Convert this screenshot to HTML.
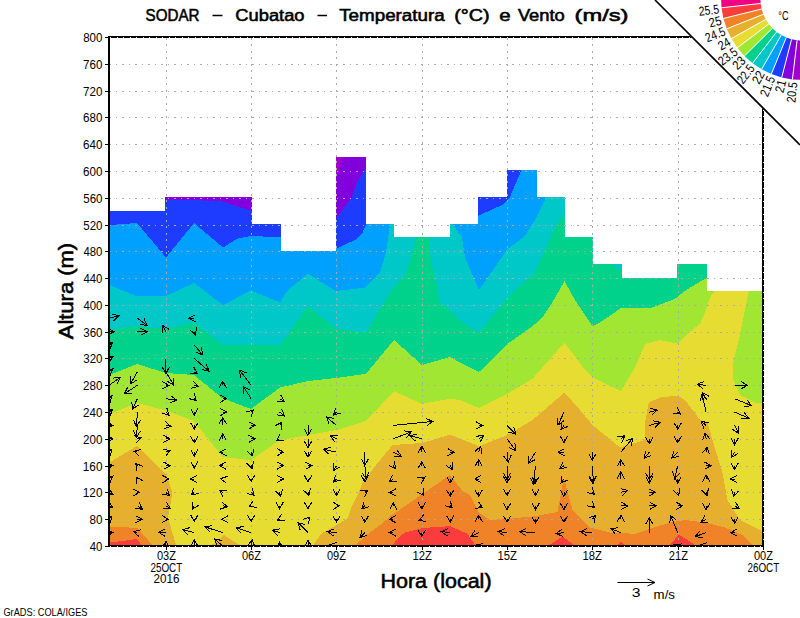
<!DOCTYPE html><html><head><meta charset="utf-8"><style>html,body{margin:0;padding:0;background:#fff;overflow:hidden}svg{display:block}</style></head><body><svg width="800" height="618" viewBox="0 0 800 618">
<defs><clipPath id="m"><polygon points="109.0,546.0 109.0,211.1 137.4,211.1 137.4,211.1 165.9,211.1 165.9,197.7 194.3,197.7 194.3,197.7 222.7,197.7 222.7,197.7 251.2,197.7 251.2,224.5 279.6,224.5 279.6,251.3 308.0,251.3 308.0,251.3 336.5,251.3 336.5,157.6 364.9,157.6 364.9,224.5 393.3,224.5 393.3,237.9 421.8,237.9 421.8,237.9 450.2,237.9 450.2,224.5 478.7,224.5 478.7,197.7 507.1,197.7 507.1,170.9 535.5,170.9 535.5,197.7 564.0,197.7 564.0,237.9 592.4,237.9 592.4,264.7 620.8,264.7 620.8,278.1 649.3,278.1 649.3,278.1 677.7,278.1 677.7,264.7 706.1,264.7 706.1,291.5 734.6,291.5 734.6,291.5 763.0,291.5 763.0,546.0"/></clipPath><clipPath id="pr"><rect x="109" y="37" width="654" height="509"/></clipPath><clipPath id="pa"><rect x="110" y="38" width="652" height="507"/></clipPath></defs>
<rect width="800" height="618" fill="#fff"/>
<g clip-path="url(#pr)" shape-rendering="crispEdges">
<rect x="100" y="100" width="700" height="460" fill="#8200dc"/>
<polygon points="336,157 343.7,157 336,178.7" fill="#a000c8"/>
<polygon points="100.0,150.0 164.8,150.0 164.8,199.5 220.0,201.0 252.2,211.0 252.2,150.0 335.8,150.0 335.8,218.5 343.5,208.8 351.5,198.0 357.0,182.0 366.2,167.8 366.2,150.0 805.0,150.0 805.0,560.0 100.0,560.0" fill="#1e3cff"/>
<polygon points="100.0,225.8 137.0,223.0 166.0,257.5 194.0,223.0 223.0,247.5 237.0,238.8 251.0,235.8 281.2,237.5 281.2,150.0 335.8,150.0 335.8,248.8 357.0,239.0 362.0,233.7 366.2,224.0 366.2,150.0 477.8,150.0 477.8,216.0 502.0,205.0 509.5,198.0 521.0,171.0 521.0,150.0 805.0,150.0 805.0,560.0 100.0,560.0" fill="#00a0ff"/>
<polygon points="100.0,281.2 137.0,296.2 166.0,296.0 194.0,283.0 223.0,305.0 251.0,290.5 280.0,302.5 287.0,291.0 308.0,273.8 336.0,291.2 365.0,287.5 380.0,272.5 386.0,252.5 390.0,224.0 390.0,150.0 452.5,150.0 452.5,224.0 462.0,237.5 465.0,257.5 479.0,290.0 507.5,249.0 525.0,236.0 535.0,220.0 546.0,198.0 546.0,150.0 805.0,150.0 805.0,560.0 100.0,560.0" fill="#00c8c8"/>
<polygon points="100.0,331.2 137.0,326.2 166.0,328.8 194.0,322.5 222.5,344.5 280.0,345.5 308.0,306.2 336.0,328.8 366.0,332.5 390.0,292.5 405.0,275.0 411.0,257.5 416.0,237.5 422.0,200.0 428.8,237.5 430.0,255.0 436.0,282.5 440.0,302.5 450.0,310.0 460.0,321.0 479.0,333.0 507.5,297.5 535.0,272.5 555.0,227.5 565.2,212.5 565.2,150.0 612.0,150.0 612.0,264.5 622.2,271.0 622.2,150.0 805.0,150.0 805.0,560.0 100.0,560.0" fill="#00d28c"/>
<polygon points="100.0,378.8 137.0,364.0 166.0,373.0 194.0,375.0 222.0,398.0 251.0,409.0 280.0,387.5 308.0,381.0 336.0,378.0 366.0,373.8 394.0,340.0 422.0,365.0 450.0,357.0 460.0,362.5 479.0,372.0 507.5,343.8 532.5,326.2 542.5,317.5 553.8,300.0 564.5,281.2 575.0,300.0 592.5,326.2 600.0,322.5 621.8,307.5 652.5,307.5 675.0,298.8 686.2,290.0 707.2,277.5 707.2,260.0 805.0,260.0 805.0,560.0 100.0,560.0" fill="#a0e632"/>
<polygon points="100.0,418.0 137.0,403.0 166.0,410.5 194.0,421.0 222.5,457.0 251.0,460.0 280.0,440.0 337.0,430.0 366.0,421.0 394.0,391.2 422.0,403.8 450.0,398.8 460.0,400.0 479.0,408.0 507.5,393.8 532.5,378.8 564.5,342.5 585.0,370.0 592.5,377.5 621.0,391.0 635.0,367.5 645.0,344.0 660.0,340.0 678.0,343.8 687.5,333.8 700.0,323.8 705.0,312.5 710.0,297.5 715.0,290.5 717.0,270.0 748.0,270.0 748.8,290.5 740.0,335.0 732.5,365.0 732.5,377.5 740.0,395.0 755.0,402.5 805.0,403.8 805.0,560.0 100.0,560.0" fill="#e6dc32"/>
<polygon points="100.0,468.0 137.0,446.0 166.0,474.0 172.4,493.0 168.0,518.0 177.0,548.0 208.0,548.0 224.0,535.0 244.0,548.0 311.0,548.0 322.0,533.0 336.6,525.0 348.0,518.0 352.0,506.0 358.0,494.0 362.0,484.0 376.0,465.0 392.5,445.0 422.5,443.0 450.0,434.5 479.0,446.2 507.5,435.0 532.5,420.0 564.5,392.5 580.0,410.0 592.5,425.0 620.0,447.5 645.0,440.0 645.0,422.5 648.8,402.5 660.0,397.5 677.5,395.5 685.0,400.0 700.0,420.0 707.5,422.5 712.5,440.0 722.5,472.5 727.5,500.0 740.0,520.0 760.0,530.0 805.0,530.0 805.0,560.0 100.0,560.0" fill="#e6af2d"/>
<polygon points="100.0,527.0 124.0,527.0 138.0,528.5 155.0,548.0 352.0,548.0 368.0,534.0 380.0,525.0 392.0,515.0 422.5,494.0 450.0,475.0 462.5,491.0 470.0,495.0 479.0,512.5 490.0,520.0 507.5,518.8 535.0,516.2 557.5,512.0 563.8,477.5 572.5,510.0 590.0,527.5 610.0,532.5 635.0,533.8 650.0,528.8 670.0,522.5 685.0,520.0 705.0,522.5 725.0,527.5 742.5,535.0 755.0,548.0 805.0,548.0 805.0,560.0 100.0,560.0" fill="#f08228"/>
<polygon points="100.0,542.0 118.0,541.5 137.0,539.0 144.0,548.0 390.0,548.0 400.0,536.0 405.0,532.5 422.5,528.0 450.0,526.2 467.5,533.8 477.5,548.0 545.0,548.0 562.5,536.2 577.5,548.0 615.0,548.0 621.0,541.0 627.5,548.0 667.5,548.0 678.8,534.5 700.0,548.0 805.0,548.0 805.0,560.0 100.0,560.0" fill="#fa3c3c"/>
<polygon points="100.0,211.0 100.0,211.0 138.0,211.0 138.0,211.0 165.0,211.0 165.0,197.0 195.0,197.0 195.0,197.0 224.0,197.0 224.0,197.0 252.0,197.0 252.0,224.0 281.0,224.0 281.0,251.0 309.0,251.0 309.0,251.0 336.0,251.0 336.0,157.0 366.0,157.0 366.0,224.0 394.0,224.0 394.0,237.0 423.0,237.0 423.0,237.0 450.0,237.0 450.0,224.0 478.0,224.0 478.0,197.0 507.0,197.0 507.0,170.0 537.0,170.0 537.0,197.0 565.0,197.0 565.0,237.0 593.0,237.0 593.0,264.0 622.0,264.0 622.0,278.0 650.0,278.0 650.0,278.0 677.0,278.0 677.0,264.0 707.0,264.0 707.0,291.0 736.0,291.0 736.0,291.0 805.0,291.0 805.0,30.0 100.0,30.0" fill="#fff"/>
</g>
<path d="M109.0 519.5H762.0 M109.0 492.5H762.0 M109.0 466.5H762.0 M109.0 439.5H762.0 M109.0 412.5H762.0 M109.0 385.5H762.0 M109.0 358.5H762.0 M109.0 332.5H762.0 M109.0 305.5H762.0 M109.0 278.5H762.0 M109.0 251.5H762.0 M109.0 225.5H762.0 M109.0 198.5H762.0 M109.0 171.5H762.0 M109.0 144.5H762.0 M109.0 117.5H762.0 M109.0 91.5H762.0 M109.0 64.5H762.0 M109.0 37.5H762.0" stroke="#aaaaaa" stroke-width="1" stroke-dasharray="2 5 1 5" fill="none" shape-rendering="crispEdges"/>
<path d="M166.5 38.0V545.0 M251.5 38.0V545.0 M336.5 38.0V545.0 M422.5 38.0V545.0 M507.5 38.0V545.0 M592.5 38.0V545.0 M678.5 38.0V545.0" stroke="#aaaaaa" stroke-width="1" stroke-dasharray="2 4 2 5" fill="none" shape-rendering="crispEdges"/>
<path clip-path="url(#pa)" d="M109.0 532.6L113.0 532.6M106.4 529.0L113.0 532.6L106.4 536.2 M109.0 519.2L112.0 516.2M104.8 518.3L112.0 516.2L109.9 523.4 M109.0 505.8L113.0 507.8M108.8 501.6L113.0 507.8L105.5 508.1 M109.0 492.4L113.0 494.4M108.8 488.2L113.0 494.4L105.5 494.7 M109.0 479.0L113.0 476.0M105.6 477.1L113.0 476.0L109.9 482.9 M109.0 465.6L113.0 465.6M106.4 462.0L113.0 465.6L106.4 469.3 M109.0 452.2L112.0 449.2M104.8 451.3L112.0 449.2L109.9 456.4 M109.0 438.8L113.0 438.8M106.4 435.2L113.0 438.8L106.4 442.5 M109.0 425.4L113.0 425.4M106.4 421.8L113.0 425.4L106.4 429.1 M109.0 412.1L113.0 409.1M105.6 410.1L113.0 409.1L109.9 415.9 M109.0 398.7L112.0 395.7M104.8 397.7L112.0 395.7L109.9 402.9 M109.0 385.3L120.4 377.4M112.9 378.1L120.4 377.4L117.1 384.1 M109.0 371.9L113.0 368.9M105.6 369.9L113.0 368.9L109.9 375.7 M109.0 358.5L113.0 356.5M105.5 356.2L113.0 356.5L108.8 362.7 M109.0 345.1L113.0 342.1M105.6 343.1L113.0 342.1L109.9 348.9 M109.0 331.7L114.0 331.7M107.4 328.0L114.0 331.7L107.4 335.3 M109.0 318.3L119.0 315.8M111.8 313.9L119.0 315.8L113.5 320.9 M137.4 532.6L133.6 531.7M139.2 536.8L133.6 531.7L140.9 529.7 M137.4 519.2L142.1 519.2M135.6 515.6L142.1 519.2L135.6 522.8 M137.4 505.8L142.4 509.2M139.1 502.5L142.4 509.2L135.0 508.5 M137.4 492.4L139.4 492.4M132.9 488.8L139.4 492.4L132.9 496.1 M137.4 479.0L136.1 476.9M136.5 484.4L136.1 476.9L142.7 480.6 M137.4 465.6L135.7 463.5M137.0 470.9L135.7 463.5L142.7 466.3 M137.4 452.2L134.0 451.3M139.4 456.5L134.0 451.3L141.3 449.5 M137.4 438.8L141.4 437.8M134.2 435.9L141.4 437.8L136.0 443.0 M137.4 425.4L136.4 437.1M140.6 430.9L136.4 437.1L133.4 430.3 M137.4 412.1L136.4 426.6M140.5 420.3L136.4 426.6L133.3 419.8 M137.4 398.7L132.3 409.4M138.4 405.0L132.3 409.4L131.9 401.9 M137.4 385.3L124.2 393.9M131.7 393.3L124.2 393.9L127.7 387.2 M137.4 371.9L130.5 383.9M137.0 380.0L130.5 383.9L130.7 376.4 M137.4 331.7L147.1 331.7M140.6 328.0L147.1 331.7L140.6 335.3 M137.4 318.3L147.1 325.4M144.0 318.6L147.1 325.4L139.7 324.4 M165.9 546.0L165.9 541.1M162.2 547.7L165.9 541.1L169.5 547.7 M165.9 532.6L158.5 532.2M164.8 536.2L158.5 532.2L165.2 528.9 M165.9 519.2L168.5 519.2M161.9 515.6L168.5 519.2L161.9 522.8 M165.9 505.8L170.2 508.4M166.4 501.9L170.2 508.4L162.7 508.1 M165.9 492.4L169.7 495.6M167.0 488.6L169.7 495.6L162.3 494.2 M165.9 479.0L169.1 479.0M162.5 475.4L169.1 479.0L162.5 482.7 M165.9 465.6L170.2 465.6M163.6 462.0L170.2 465.6L163.6 469.3 M165.9 452.2L170.2 450.3M162.7 449.7L170.2 450.3L165.6 456.3 M165.9 438.8L169.9 438.8M163.3 435.2L169.9 438.8L163.3 442.5 M165.9 425.4L170.9 426.4M165.2 421.6L170.9 426.4L163.7 428.7 M165.9 412.1L168.9 415.1M166.8 407.8L168.9 415.1L161.7 413.0 M165.9 398.7L176.8 400.1M170.7 395.6L176.8 400.1L169.8 402.8 M165.9 385.3L168.9 385.3M162.3 381.6L168.9 385.3L162.3 388.9 M165.9 371.9L173.8 385.1M173.5 377.6L173.8 385.1L167.3 381.3 M165.9 358.5L165.9 373.5M169.5 366.9L165.9 373.5L162.2 366.9 M165.9 331.7L162.3 325.3M162.3 332.8L162.3 325.3L168.7 329.2 M194.3 546.0L194.3 539.6M190.7 546.2L194.3 539.6L197.9 546.2 M194.3 532.6L182.4 529.6M187.9 534.7L182.4 529.6L189.7 527.7 M194.3 519.2L194.3 521.5M197.9 515.0L194.3 521.5L190.7 515.0 M194.3 505.8L192.4 509.2M198.8 505.3L192.4 509.2L192.4 501.7 M194.3 492.4L191.3 495.0M198.6 493.5L191.3 495.0L193.9 488.0 M194.3 479.0L190.3 479.0M196.9 482.7L190.3 479.0L196.9 475.4 M194.3 465.6L194.3 467.9M197.9 461.4L194.3 467.9L190.7 461.4 M194.3 452.2L194.3 456.0M197.9 449.5L194.3 456.0L190.7 449.5 M194.3 438.8L194.3 442.8M197.9 436.3L194.3 442.8L190.7 436.3 M194.3 425.4L194.3 429.4M197.9 422.9L194.3 429.4L190.7 422.9 M194.3 412.1L194.3 415.1M197.9 408.5L194.3 415.1L190.7 408.5 M194.3 398.7L196.3 400.7M194.2 393.4L196.3 400.7L189.1 398.6 M194.3 385.3L198.3 386.3M192.8 381.1L198.3 386.3L191.1 388.2 M194.3 371.9L197.3 373.9M193.9 367.2L197.3 373.9L189.8 373.3 M194.3 358.5L209.0 371.2M206.4 364.1L209.0 371.2L201.7 369.6 M194.3 345.1L202.7 354.8M201.2 347.4L202.7 354.8L195.7 352.2 M194.3 331.7L195.3 334.7M196.7 327.3L195.3 334.7L189.8 329.6 M194.3 318.3L188.7 318.3M195.3 321.9L188.7 318.3L195.3 314.7 M222.7 546.0L214.6 539.0M217.2 546.0L214.6 539.0L222.0 540.5 M222.7 532.6L205.1 526.9M210.3 532.4L205.1 526.9L212.5 525.5 M222.7 519.2L221.7 519.2M228.3 522.8L221.7 519.2L228.3 515.6 M222.7 505.8L227.4 506.7M221.7 501.9L227.4 506.7L220.3 509.1 M222.7 492.4L219.7 490.4M223.2 497.1L219.7 490.4L227.2 491.0 M222.7 479.0L220.6 478.6M226.4 483.4L220.6 478.6L227.8 476.3 M222.7 465.6L219.5 465.6M226.1 469.3L219.5 465.6L226.1 462.0 M222.7 452.2L219.9 452.2M226.5 455.9L219.9 452.2L226.5 448.6 M222.7 438.8L222.7 433.8M219.1 440.4L222.7 433.8L226.4 440.4 M222.7 425.4L222.7 417.4M219.1 424.0L222.7 417.4L226.4 424.0 M222.7 412.1L226.7 412.1M220.2 408.4L226.7 412.1L220.2 415.7 M222.7 398.7L226.7 398.7M220.2 395.0L226.7 398.7L220.2 402.3 M222.7 385.3L222.7 381.3M219.1 387.8L222.7 381.3L226.4 387.8 M251.2 546.0L252.1 539.6M247.6 545.6L252.1 539.6L254.8 546.6 M251.2 532.6L236.2 527.9M241.3 533.3L236.2 527.9L243.5 526.4 M251.2 519.2L251.2 521.5M254.8 515.0L251.2 521.5L247.5 515.0 M251.2 505.8L249.2 506.8M256.7 507.1L249.2 506.8L253.4 500.6 M251.2 492.4L254.2 495.4M252.1 488.2L254.2 495.4L247.0 493.4 M251.2 479.0L251.2 481.6M254.8 475.1L251.2 481.6L247.5 475.1 M251.2 465.6L252.1 468.4M253.5 461.1L252.1 468.4L246.6 463.3 M251.2 452.2L252.7 456.0M253.6 448.6L252.7 456.0L246.9 451.3 M251.2 438.8L255.2 438.8M248.6 435.2L255.2 438.8L248.6 442.5 M251.2 425.4L255.2 425.4M248.6 421.8L255.2 425.4L248.6 429.1 M251.2 412.1L253.2 410.1M246.0 412.1L253.2 410.1L251.1 417.3 M251.2 398.7L243.3 386.5M243.8 393.9L243.3 386.5L249.9 390.0 M251.2 385.3L239.5 370.1M240.6 377.5L239.5 370.1L246.4 373.0 M279.6 546.0L279.6 542.0M276.0 548.6L279.6 542.0L283.2 548.6 M279.6 532.6L272.6 530.1M277.6 535.7L272.6 530.1L280.0 528.9 M279.6 519.2L277.6 520.2M285.1 520.5L277.6 520.2L281.8 514.0 M279.6 505.8L279.6 508.8M283.2 502.3L279.6 508.8L276.0 502.3 M279.6 492.4L280.6 496.4M282.5 489.2L280.6 496.4L275.5 490.9 M279.6 479.0L283.6 479.0M277.0 475.4L283.6 479.0L277.0 482.7 M279.6 465.6L283.6 465.6M277.0 462.0L283.6 465.6L277.0 469.3 M279.6 452.2L283.6 452.2M277.0 448.6L283.6 452.2L277.0 455.9 M279.6 438.8L276.6 440.8M284.1 440.2L276.6 440.8L280.0 434.2 M279.6 425.4L281.6 422.4M274.9 425.9L281.6 422.4L281.0 429.9 M279.6 412.1L284.6 416.1M281.8 409.1L284.6 416.1L277.2 414.8 M279.6 398.7L284.6 401.7M280.9 395.2L284.6 401.7L277.1 401.4 M308.0 546.0L308.0 540.0M304.4 546.6L308.0 540.0L311.7 546.6 M308.0 532.6L298.0 522.6M300.1 529.8L298.0 522.6L305.3 524.7 M308.0 519.2L310.0 517.2M302.8 519.3L310.0 517.2L308.0 524.4 M308.0 505.8L308.0 508.8M311.7 502.3L308.0 508.8L304.4 502.3 M308.0 492.4L309.0 495.4M310.4 488.0L309.0 495.4L303.5 490.3 M308.0 479.0L308.0 482.0M311.7 475.5L308.0 482.0L304.4 475.5 M308.0 465.6L312.0 465.6M305.5 462.0L312.0 465.6L305.5 469.3 M308.0 452.2L308.0 457.2M311.7 450.7L308.0 457.2L304.4 450.7 M308.0 438.8L308.0 447.8M311.7 441.3L308.0 447.8L304.4 441.3 M308.0 425.4L308.0 435.4M311.7 428.9L308.0 435.4L304.4 428.9 M336.5 546.0L329.5 545.0M335.5 549.5L329.5 545.0L336.5 542.3 M336.5 532.6L327.5 531.6M333.6 535.9L327.5 531.6L334.4 528.7 M336.5 519.2L336.5 522.2M340.1 515.7L336.5 522.2L332.8 515.7 M336.5 505.8L339.5 505.8M332.9 502.2L339.5 505.8L332.9 509.5 M336.5 492.4L336.5 495.4M340.1 488.9L336.5 495.4L332.8 488.9 M336.5 479.0L333.5 482.0M340.7 480.0L333.5 482.0L335.5 474.8 M336.5 465.6L333.5 470.6M340.0 466.9L333.5 470.6L333.7 463.1 M336.5 452.2L323.5 449.2M329.1 454.3L323.5 449.2L330.7 447.2 M336.5 438.8L330.5 435.8M334.7 442.0L330.5 435.8L338.0 435.5 M336.5 425.4L326.5 416.9M329.1 424.0L326.5 416.9L333.8 418.4 M336.5 412.1L333.5 415.1M340.7 413.0L333.5 415.1L335.5 407.8 M364.9 532.6L359.9 537.6M367.1 535.5L359.9 537.6L362.0 530.4 M364.9 519.2L364.9 522.2M368.5 515.7L364.9 522.2L361.3 515.7 M364.9 505.8L361.9 508.8M369.1 506.7L361.9 508.8L364.0 501.6 M364.9 492.4L367.9 490.4M360.4 491.0L367.9 490.4L364.5 497.1 M364.9 479.0L364.9 482.0M368.5 475.5L364.9 482.0L361.3 475.5 M364.9 465.6L365.9 478.6M369.0 471.8L365.9 478.6L361.8 472.4 M364.9 452.2L364.9 465.2M368.5 458.7L364.9 465.2L361.3 458.7 M393.3 532.6L389.3 532.6M395.9 536.2L389.3 532.6L395.9 529.0 M393.3 519.2L389.3 519.2M395.9 522.8L389.3 519.2L395.9 515.6 M393.3 505.8L393.3 502.8M389.7 509.4L393.3 502.8L397.0 509.4 M393.3 492.4L389.3 492.4M395.9 496.1L389.3 492.4L395.9 488.8 M393.3 479.0L389.3 482.0M396.8 481.0L389.3 482.0L392.4 475.2 M393.3 465.6L395.3 468.6M394.7 461.2L395.3 468.6L388.7 465.2 M393.3 452.2L401.3 456.2M397.1 450.1L401.3 456.2L393.9 456.6 M393.3 438.8L411.3 431.8M403.9 430.8L411.3 431.8L406.6 437.6 M393.3 425.4L432.8 421.4M426.0 418.5L432.8 421.4L426.7 425.7 M421.8 532.6L421.8 536.6M425.4 530.0L421.8 536.6L418.1 530.0 M421.8 519.2L418.8 520.2M426.2 521.6L418.8 520.2L423.9 514.7 M421.8 505.8L421.8 508.8M425.4 502.3L421.8 508.8L418.1 502.3 M421.8 492.4L423.8 495.4M423.2 487.9L423.8 495.4L417.1 492.0 M421.8 479.0L424.8 477.0M417.3 477.6L424.8 477.0L421.3 483.7 M421.8 465.6L421.8 461.6M418.1 468.2L421.8 461.6L425.4 468.2 M421.8 452.2L421.8 446.2M418.1 452.8L421.8 446.2L425.4 452.8 M421.8 438.8L409.8 435.8M415.3 441.0L409.8 435.8L417.0 433.9 M450.2 532.6L441.2 531.6M447.3 535.9L441.2 531.6L448.1 528.7 M450.2 519.2L450.2 522.2M453.9 515.7L450.2 522.2L446.6 515.7 M450.2 505.8L452.2 507.8M450.2 500.6L452.2 507.8L445.0 505.7 M450.2 492.4L450.2 496.4M453.9 489.9L450.2 496.4L446.6 489.9 M450.2 479.0L450.2 483.0M453.9 476.5L450.2 483.0L446.6 476.5 M450.2 465.6L452.2 469.6M452.5 462.1L452.2 469.6L446.0 465.4 M450.2 452.2L454.2 452.2M447.7 448.6L454.2 452.2L447.7 455.9 M478.7 546.0L475.7 545.0M480.7 550.5L475.7 545.0L483.0 543.6 M478.7 532.6L470.7 536.6M478.1 536.9L470.7 536.6L474.9 530.4 M478.7 519.2L478.7 515.2M475.0 521.8L478.7 515.2L482.3 521.8 M478.7 505.8L482.7 507.8M478.4 501.6L482.7 507.8L475.2 508.1 M478.7 492.4L478.7 496.4M482.3 489.9L478.7 496.4L475.0 489.9 M478.7 479.0L474.7 479.0M481.2 482.7L474.7 479.0L481.2 475.4 M478.7 465.6L478.7 459.6M475.0 466.2L478.7 459.6L482.3 466.2 M478.7 452.2L480.7 446.2M475.1 451.3L480.7 446.2L482.0 453.6 M478.7 438.8L483.7 435.8M476.2 436.1L483.7 435.8L479.9 442.3 M478.7 425.4L482.7 425.4M476.1 421.8L482.7 425.4L476.1 429.1 M507.1 532.6L498.1 531.6M504.2 535.9L498.1 531.6L505.0 528.7 M507.1 519.2L507.1 522.2M510.7 515.7L507.1 522.2L503.5 515.7 M507.1 505.8L507.1 509.8M510.7 503.3L507.1 509.8L503.5 503.3 M507.1 492.4L507.1 495.4M510.7 488.9L507.1 495.4L503.5 488.9 M507.1 479.0L507.1 483.0M510.7 476.5L507.1 483.0L503.5 476.5 M507.1 465.6L507.1 479.6M510.7 473.1L507.1 479.6L503.5 473.1 M507.1 452.2L508.1 462.2M511.1 455.3L508.1 462.2L503.8 456.1 M507.1 438.8L515.8 450.8M514.9 443.4L515.8 450.8L509.0 447.7 M507.1 425.4L515.8 434.1M513.7 426.9L515.8 434.1L508.6 432.1 M535.5 532.6L519.5 531.6M525.8 535.6L519.5 531.6L526.3 528.4 M535.5 519.2L535.5 523.2M539.2 516.7L535.5 523.2L531.9 516.7 M535.5 505.8L535.5 509.8M539.2 503.3L535.5 509.8L531.9 503.3 M535.5 492.4L535.5 495.4M539.2 488.9L535.5 495.4L531.9 488.9 M535.5 479.0L535.5 483.0M539.2 476.5L535.5 483.0L531.9 476.5 M535.5 465.6L533.5 484.6M537.8 478.5L533.5 484.6L530.6 477.7 M535.5 452.2L528.5 463.2M535.1 459.7L528.5 463.2L529.0 455.8 M564.0 532.6L556.0 533.6M562.9 536.4L556.0 533.6L562.0 529.2 M564.0 519.2L564.0 522.2M567.6 515.7L564.0 522.2L560.3 515.7 M564.0 505.8L564.0 509.8M567.6 503.3L564.0 509.8L560.3 503.3 M564.0 492.4L564.0 496.4M567.6 489.9L564.0 496.4L560.3 489.9 M564.0 479.0L561.0 483.0M567.8 480.0L561.0 483.0L562.0 475.6 M564.0 465.6L560.0 468.6M567.4 467.6L560.0 468.6L563.0 461.8 M564.0 452.2L558.0 452.2M564.5 455.9L558.0 452.2L564.5 448.6 M564.0 438.8L564.0 442.8M567.6 436.3L564.0 442.8L560.3 436.3 M564.0 425.4L561.0 429.4M567.8 426.4L561.0 429.4L562.0 422.0 M564.0 412.1L558.0 425.1M564.0 420.6L558.0 425.1L557.4 417.6 M592.4 532.6L580.4 531.6M586.6 535.8L580.4 531.6L587.2 528.5 M592.4 519.2L595.4 515.2M588.5 518.3L595.4 515.2L594.4 522.6 M592.4 505.8L594.4 507.8M592.3 500.6L594.4 507.8L587.2 505.7 M592.4 492.4L594.4 494.4M592.3 487.2L594.4 494.4L587.2 492.4 M592.4 479.0L592.4 483.0M596.0 476.5L592.4 483.0L588.8 476.5 M592.4 465.6L593.4 482.6M596.6 475.9L593.4 482.6L589.4 476.3 M592.4 452.2L592.4 460.2M596.0 453.7L592.4 460.2L588.8 453.7 M620.8 532.6L610.8 528.6M615.6 534.4L610.8 528.6L618.3 527.7 M620.8 519.2L620.8 515.2M617.2 521.8L620.8 515.2L624.5 521.8 M620.8 505.8L627.8 505.8M621.3 502.2L627.8 505.8L621.3 509.5 M620.8 492.4L627.8 490.4M620.5 488.7L627.8 490.4L622.5 495.7 M620.8 479.0L620.8 472.0M617.2 478.6L620.8 472.0L624.5 478.6 M620.8 465.6L620.8 459.6M617.2 466.2L620.8 459.6L624.5 466.2 M620.8 452.2L632.8 438.2M625.8 440.9L632.8 438.2L631.3 445.6 M620.8 438.8L624.8 435.8M617.4 436.9L624.8 435.8L621.8 442.7 M649.3 532.6L649.3 517.6M645.6 524.2L649.3 517.6L652.9 524.2 M649.3 505.8L656.3 505.8M649.7 502.2L656.3 505.8L649.7 509.5 M649.3 492.4L655.3 492.4M648.7 488.8L655.3 492.4L648.7 496.1 M649.3 479.0L649.3 483.0M652.9 476.5L649.3 483.0L645.6 476.5 M649.3 465.6L649.3 479.6M652.9 473.1L649.3 479.6L645.6 473.1 M649.3 452.2L644.3 458.2M651.3 455.5L644.3 458.2L645.7 450.9 M649.3 438.8L649.3 443.8M652.9 437.3L649.3 443.8L645.6 437.3 M649.3 425.4L660.3 422.4M653.0 420.7L660.3 422.4L654.9 427.7 M649.3 412.1L657.3 410.1M650.0 408.1L657.3 410.1L651.8 415.2 M677.7 546.0L680.7 544.0M673.2 544.6L680.7 544.0L677.3 550.7 M677.7 532.6L670.7 515.6M669.8 523.1L670.7 515.6L676.6 520.3 M677.7 505.8L682.7 505.8M676.1 502.2L682.7 505.8L676.1 509.5 M677.7 492.4L678.7 495.4M680.1 488.0L678.7 495.4L673.2 490.3 M677.7 479.0L677.7 483.0M681.3 476.5L677.7 483.0L674.1 476.5 M677.7 465.6L674.7 478.6M679.7 473.1L674.7 478.6L672.6 471.4 M677.7 452.2L671.7 458.2M678.9 456.2L671.7 458.2L673.8 451.0 M677.7 438.8L677.7 442.8M681.3 436.3L677.7 442.8L674.1 436.3 M677.7 425.4L677.7 429.4M681.3 422.9L677.7 429.4L674.1 422.9 M677.7 412.1L680.7 414.1M677.3 407.4L680.7 414.1L673.2 413.4 M706.1 546.0L700.1 545.0M706.0 549.7L700.1 545.0L707.2 542.5 M706.1 532.6L695.1 536.6M702.5 537.8L695.1 536.6L700.1 530.9 M706.1 519.2L701.1 522.2M708.6 522.0L701.1 522.2L704.9 515.7 M706.1 505.8L706.1 509.8M709.8 503.3L706.1 509.8L702.5 503.3 M706.1 492.4L707.1 495.4M708.5 488.0L707.1 495.4L701.6 490.3 M706.1 479.0L706.1 475.0M702.5 481.6L706.1 475.0L709.8 481.6 M706.1 465.6L711.1 465.6M704.6 462.0L711.1 465.6L704.6 469.3 M706.1 452.2L707.1 447.2M702.3 453.0L707.1 447.2L709.4 454.4 M706.1 438.8L705.1 432.8M702.6 439.9L705.1 432.8L709.8 438.7 M706.1 425.4L701.1 421.4M704.0 428.4L701.1 421.4L708.5 422.7 M706.1 412.1L702.1 394.1M700.0 401.2L702.1 394.1L707.1 399.7 M706.1 398.7L702.1 392.7M702.7 400.1L702.1 392.7L708.8 396.1 M706.1 385.3L697.1 384.3M703.2 388.6L697.1 384.3L704.1 381.4 M734.6 532.6L730.6 532.6M737.1 536.2L730.6 532.6L737.1 529.0 M734.6 519.2L734.6 523.2M738.2 516.7L734.6 523.2L730.9 516.7 M734.6 505.8L739.6 508.8M735.8 502.3L739.6 508.8L732.1 508.6 M734.6 492.4L733.6 496.4M738.7 490.9L733.6 496.4L731.6 489.2 M734.6 479.0L730.6 479.0M737.1 482.7L730.6 479.0L737.1 475.4 M734.6 465.6L734.6 469.6M738.2 463.1L734.6 469.6L730.9 463.1 M734.6 452.2L731.6 457.2M738.1 453.5L731.6 457.2L731.8 449.7 M734.6 438.8L734.6 444.8M738.2 438.3L734.6 444.8L730.9 438.3 M734.6 425.4L738.6 433.4M738.9 426.0L738.6 433.4L732.4 429.2 M734.6 412.1L748.6 418.1M744.0 412.1L748.6 418.1L741.1 418.8 M734.6 398.7L751.6 405.7M746.9 399.8L751.6 405.7L744.1 406.5 M734.6 385.3L747.6 385.3M741.0 381.6L747.6 385.3L741.0 388.9" stroke="#000" stroke-width="1" fill="none" shape-rendering="crispEdges"/>
<path d="M109.0 37.0V546.0H763.0V37.0Z" stroke="#000" stroke-width="2" fill="none"/>
<path d="M110 37.5H762M110 546.5H762M763.5 38V545" stroke="#e8e8e8" stroke-width="1" stroke-dasharray="1 5.5" fill="none" shape-rendering="crispEdges"/>
<path d="M105 546.5H109.0 M105 519.5H109.0 M105 492.5H109.0 M105 466.5H109.0 M105 439.5H109.0 M105 412.5H109.0 M105 385.5H109.0 M105 358.5H109.0 M105 332.5H109.0 M105 305.5H109.0 M105 278.5H109.0 M105 251.5H109.0 M105 225.5H109.0 M105 198.5H109.0 M105 171.5H109.0 M105 144.5H109.0 M105 117.5H109.0 M105 91.5H109.0 M105 64.5H109.0 M105 37.5H109.0 M166.5 546.0V549.5 M251.5 546.0V549.5 M336.5 546.0V549.5 M422.5 546.0V549.5 M507.5 546.0V549.5 M592.5 546.0V549.5 M678.5 546.0V549.5 M763.5 546.0V549.5" stroke="#000" stroke-width="1" fill="none" shape-rendering="crispEdges"/>
<polygon points="654,0 800,0 800,146" fill="#fff"/>
<line x1="655" y1="0" x2="800" y2="145" stroke="#000" stroke-width="1.7"/>
<text x="89.77" y="551.00" font-family="Liberation Sans, sans-serif" font-size="12.86" textLength="12.65" lengthAdjust="spacingAndGlyphs">40</text>
<text x="89.48" y="524.00" font-family="Liberation Sans, sans-serif" font-size="12.86" textLength="12.96" lengthAdjust="spacingAndGlyphs">80</text>
<text x="82.82" y="497.00" font-family="Liberation Sans, sans-serif" font-size="12.86" textLength="19.64" lengthAdjust="spacingAndGlyphs">120</text>
<text x="82.82" y="471.00" font-family="Liberation Sans, sans-serif" font-size="12.86" textLength="19.64" lengthAdjust="spacingAndGlyphs">160</text>
<text x="83.12" y="444.00" font-family="Liberation Sans, sans-serif" font-size="12.86" textLength="19.33" lengthAdjust="spacingAndGlyphs">200</text>
<text x="83.12" y="417.00" font-family="Liberation Sans, sans-serif" font-size="12.86" textLength="19.33" lengthAdjust="spacingAndGlyphs">240</text>
<text x="83.12" y="390.00" font-family="Liberation Sans, sans-serif" font-size="12.86" textLength="19.33" lengthAdjust="spacingAndGlyphs">280</text>
<text x="83.24" y="363.00" font-family="Liberation Sans, sans-serif" font-size="12.86" textLength="19.20" lengthAdjust="spacingAndGlyphs">320</text>
<text x="83.24" y="337.00" font-family="Liberation Sans, sans-serif" font-size="12.86" textLength="19.20" lengthAdjust="spacingAndGlyphs">360</text>
<text x="83.47" y="310.00" font-family="Liberation Sans, sans-serif" font-size="12.86" textLength="18.97" lengthAdjust="spacingAndGlyphs">400</text>
<text x="83.47" y="283.00" font-family="Liberation Sans, sans-serif" font-size="12.86" textLength="18.97" lengthAdjust="spacingAndGlyphs">440</text>
<text x="83.47" y="256.00" font-family="Liberation Sans, sans-serif" font-size="12.86" textLength="18.97" lengthAdjust="spacingAndGlyphs">480</text>
<text x="83.24" y="230.00" font-family="Liberation Sans, sans-serif" font-size="12.86" textLength="19.20" lengthAdjust="spacingAndGlyphs">520</text>
<text x="83.24" y="203.00" font-family="Liberation Sans, sans-serif" font-size="12.86" textLength="19.20" lengthAdjust="spacingAndGlyphs">560</text>
<text x="83.12" y="176.00" font-family="Liberation Sans, sans-serif" font-size="12.86" textLength="19.33" lengthAdjust="spacingAndGlyphs">600</text>
<text x="83.12" y="149.00" font-family="Liberation Sans, sans-serif" font-size="12.86" textLength="19.33" lengthAdjust="spacingAndGlyphs">640</text>
<text x="83.12" y="122.00" font-family="Liberation Sans, sans-serif" font-size="12.86" textLength="19.33" lengthAdjust="spacingAndGlyphs">680</text>
<text x="83.12" y="96.00" font-family="Liberation Sans, sans-serif" font-size="12.86" textLength="19.33" lengthAdjust="spacingAndGlyphs">720</text>
<text x="83.12" y="69.00" font-family="Liberation Sans, sans-serif" font-size="12.86" textLength="19.33" lengthAdjust="spacingAndGlyphs">760</text>
<text x="83.18" y="42.00" font-family="Liberation Sans, sans-serif" font-size="12.86" textLength="19.26" lengthAdjust="spacingAndGlyphs">800</text>
<text x="156.96" y="560.30" font-family="Liberation Sans, sans-serif" font-size="12.00" textLength="19.01" lengthAdjust="spacingAndGlyphs">03Z</text>
<text x="241.96" y="560.30" font-family="Liberation Sans, sans-serif" font-size="12.00" textLength="19.01" lengthAdjust="spacingAndGlyphs">06Z</text>
<text x="326.96" y="560.30" font-family="Liberation Sans, sans-serif" font-size="12.00" textLength="19.01" lengthAdjust="spacingAndGlyphs">09Z</text>
<text x="412.55" y="560.30" font-family="Liberation Sans, sans-serif" font-size="12.00" textLength="19.42" lengthAdjust="spacingAndGlyphs">12Z</text>
<text x="497.55" y="560.30" font-family="Liberation Sans, sans-serif" font-size="12.00" textLength="19.42" lengthAdjust="spacingAndGlyphs">15Z</text>
<text x="582.55" y="560.30" font-family="Liberation Sans, sans-serif" font-size="12.00" textLength="19.42" lengthAdjust="spacingAndGlyphs">18Z</text>
<text x="668.85" y="560.30" font-family="Liberation Sans, sans-serif" font-size="12.00" textLength="19.12" lengthAdjust="spacingAndGlyphs">21Z</text>
<text x="753.96" y="560.30" font-family="Liberation Sans, sans-serif" font-size="12.00" textLength="19.01" lengthAdjust="spacingAndGlyphs">00Z</text>
<text x="150.51" y="571.60" font-family="Liberation Sans, sans-serif" font-size="12.00" textLength="31.72" lengthAdjust="spacingAndGlyphs">25OCT</text>
<text x="153.52" y="582.90" font-family="Liberation Sans, sans-serif" font-size="12.57" textLength="25.84" lengthAdjust="spacingAndGlyphs">2016</text>
<text x="747.51" y="571.60" font-family="Liberation Sans, sans-serif" font-size="12.00" textLength="31.72" lengthAdjust="spacingAndGlyphs">26OCT</text>
<text x="145.57" y="20.75" font-family="Liberation Sans, sans-serif" font-size="16.07" textLength="53.88" lengthAdjust="spacingAndGlyphs" stroke="#000" stroke-width="0.55">SODAR</text>
<text x="235.34" y="20.75" font-family="Liberation Sans, sans-serif" font-size="16.07" textLength="69.16" lengthAdjust="spacingAndGlyphs" stroke="#000" stroke-width="0.55">Cubatao</text>
<text x="339.22" y="20.75" font-family="Liberation Sans, sans-serif" font-size="16.07" textLength="105.46" lengthAdjust="spacingAndGlyphs" stroke="#000" stroke-width="0.55">Temperatura</text>
<text x="454.21" y="20.75" font-family="Liberation Sans, sans-serif" font-size="16.07" textLength="35.33" lengthAdjust="spacingAndGlyphs" stroke="#000" stroke-width="0.55">(°C)</text>
<text x="499.18" y="20.75" font-family="Liberation Sans, sans-serif" font-size="16.07" textLength="11.36" lengthAdjust="spacingAndGlyphs" stroke="#000" stroke-width="0.55">e</text>
<text x="517.91" y="20.75" font-family="Liberation Sans, sans-serif" font-size="16.07" textLength="46.88" lengthAdjust="spacingAndGlyphs" stroke="#000" stroke-width="0.55">Vento</text>
<text x="574.58" y="20.75" font-family="Liberation Sans, sans-serif" font-size="16.07" textLength="53.89" lengthAdjust="spacingAndGlyphs" stroke="#000" stroke-width="0.55">(m/s)</text>
<path d="M212.5 15.5H222.5M317.5 15.5H327" stroke="#000" stroke-width="1.6"/>
<text x="380.48" y="587.60" font-family="Liberation Sans, sans-serif" font-size="19.57" textLength="111.08" lengthAdjust="spacingAndGlyphs" stroke="#000" stroke-width="0.55">Hora (local)</text>
<text transform="translate(72.9,339.20) rotate(-90)" x="-0.00" y="0" font-family="Liberation Sans, sans-serif" stroke="#000" stroke-width="0.6" font-size="19.86" textLength="96.31" lengthAdjust="spacingAndGlyphs">Altura (m)</text>
<text x="3.44" y="615.80" font-family="Liberation Sans, sans-serif" font-size="11.14" textLength="84.01" lengthAdjust="spacingAndGlyphs">GrADS: COLA/IGES</text>
<path d="M617.5 582.5H655M647.5 579L655 582.5L647.5 586" stroke="#000" stroke-width="1" fill="none"/>
<text x="631.87" y="597.00" font-family="Liberation Sans, sans-serif" font-size="12.86" textLength="8.78" lengthAdjust="spacingAndGlyphs">3</text>
<text x="653.64" y="598.75" font-family="Liberation Sans, sans-serif" font-size="12.50" textLength="21.34" lengthAdjust="spacingAndGlyphs">m/s</text>
<polygon points="721.0,-3.1 721.5,7.7 760.6,3.5 760.4,-2.1" fill="#f00082"/>
<polygon points="721.5,7.7 723.4,18.5 761.6,9.0 760.6,3.5" fill="#fa3c3c"/>
<polygon points="723.4,18.5 726.7,28.8 763.3,14.3 761.6,9.0" fill="#f08228"/>
<polygon points="726.7,28.8 731.4,38.6 765.7,19.4 763.3,14.3" fill="#e6af2d"/>
<polygon points="731.4,38.6 737.3,47.7 768.8,24.0 765.7,19.4" fill="#e6dc32"/>
<polygon points="737.3,47.7 744.4,56.0 772.4,28.3 768.8,24.0" fill="#a0e632"/>
<polygon points="744.4,56.0 752.6,63.2 776.6,32.0 772.4,28.3" fill="#00d28c"/>
<polygon points="752.6,63.2 761.6,69.2 781.3,35.1 776.6,32.0" fill="#00c8c8"/>
<polygon points="761.6,69.2 771.4,74.0 786.3,37.5 781.3,35.1" fill="#00a0ff"/>
<polygon points="771.4,74.0 781.7,77.4 791.6,39.3 786.3,37.5" fill="#1e3cff"/>
<polygon points="781.7,77.4 792.4,79.4 797.1,40.3 791.6,39.3" fill="#8200dc"/>
<polygon points="792.4,79.4 803.3,80.0 802.7,40.6 797.1,40.3" fill="#a000c8"/>
<path d="M721.47 7.75L760.64 3.49 M723.37 18.46L761.62 8.99 M726.69 28.82L763.32 14.31 M731.36 38.64L765.72 19.36 M737.31 47.75L768.78 24.04 M744.43 55.97L772.43 28.26 M752.58 63.18L776.62 31.96 M761.62 69.22L781.26 35.06 M771.39 74.00L786.28 37.52 M781.72 77.42L791.58 39.27 M792.41 79.43L797.07 40.31" stroke="#fff" stroke-width="1"/>
<text transform="translate(718.49,8.07) rotate(-6.20)" x="-20.03" y="5.50" font-family="Liberation Sans, sans-serif" font-size="12.86" textLength="20.46" lengthAdjust="spacingAndGlyphs">25.5</text>
<text transform="translate(720.46,19.18) rotate(-13.90)" x="-12.06" y="5.50" font-family="Liberation Sans, sans-serif" font-size="12.86" textLength="12.54" lengthAdjust="spacingAndGlyphs">25</text>
<text transform="translate(723.90,29.92) rotate(-21.60)" x="-20.03" y="5.50" font-family="Liberation Sans, sans-serif" font-size="12.86" textLength="20.46" lengthAdjust="spacingAndGlyphs">24.5</text>
<text transform="translate(728.75,40.11) rotate(-29.30)" x="-12.06" y="5.50" font-family="Liberation Sans, sans-serif" font-size="12.86" textLength="12.42" lengthAdjust="spacingAndGlyphs">24</text>
<text transform="translate(734.91,49.55) rotate(-37.00)" x="-20.03" y="5.50" font-family="Liberation Sans, sans-serif" font-size="12.86" textLength="20.46" lengthAdjust="spacingAndGlyphs">23.5</text>
<text transform="translate(742.29,58.09) rotate(-44.70)" x="-12.06" y="5.50" font-family="Liberation Sans, sans-serif" font-size="12.86" textLength="12.54" lengthAdjust="spacingAndGlyphs">23</text>
<text transform="translate(750.75,65.55) rotate(-52.40)" x="-20.03" y="5.50" font-family="Liberation Sans, sans-serif" font-size="12.86" textLength="20.46" lengthAdjust="spacingAndGlyphs">22.5</text>
<text transform="translate(760.13,71.82) rotate(-60.10)" x="-12.07" y="5.50" font-family="Liberation Sans, sans-serif" font-size="12.86" textLength="12.67" lengthAdjust="spacingAndGlyphs">22</text>
<text transform="translate(770.26,76.77) rotate(-67.80)" x="-20.03" y="5.50" font-family="Liberation Sans, sans-serif" font-size="12.86" textLength="20.46" lengthAdjust="spacingAndGlyphs">21.5</text>
<text transform="translate(780.97,80.32) rotate(-75.50)" x="-12.07" y="5.50" font-family="Liberation Sans, sans-serif" font-size="12.86" textLength="12.60" lengthAdjust="spacingAndGlyphs">21</text>
<text transform="translate(792.05,82.41) rotate(-83.20)" x="-20.03" y="5.50" font-family="Liberation Sans, sans-serif" font-size="12.86" textLength="20.46" lengthAdjust="spacingAndGlyphs">20.5</text>
<text x="778.36" y="19.80" font-family="Liberation Sans, sans-serif" font-size="12.71" textLength="10.18" lengthAdjust="spacingAndGlyphs">°C</text>
</svg></body></html>
